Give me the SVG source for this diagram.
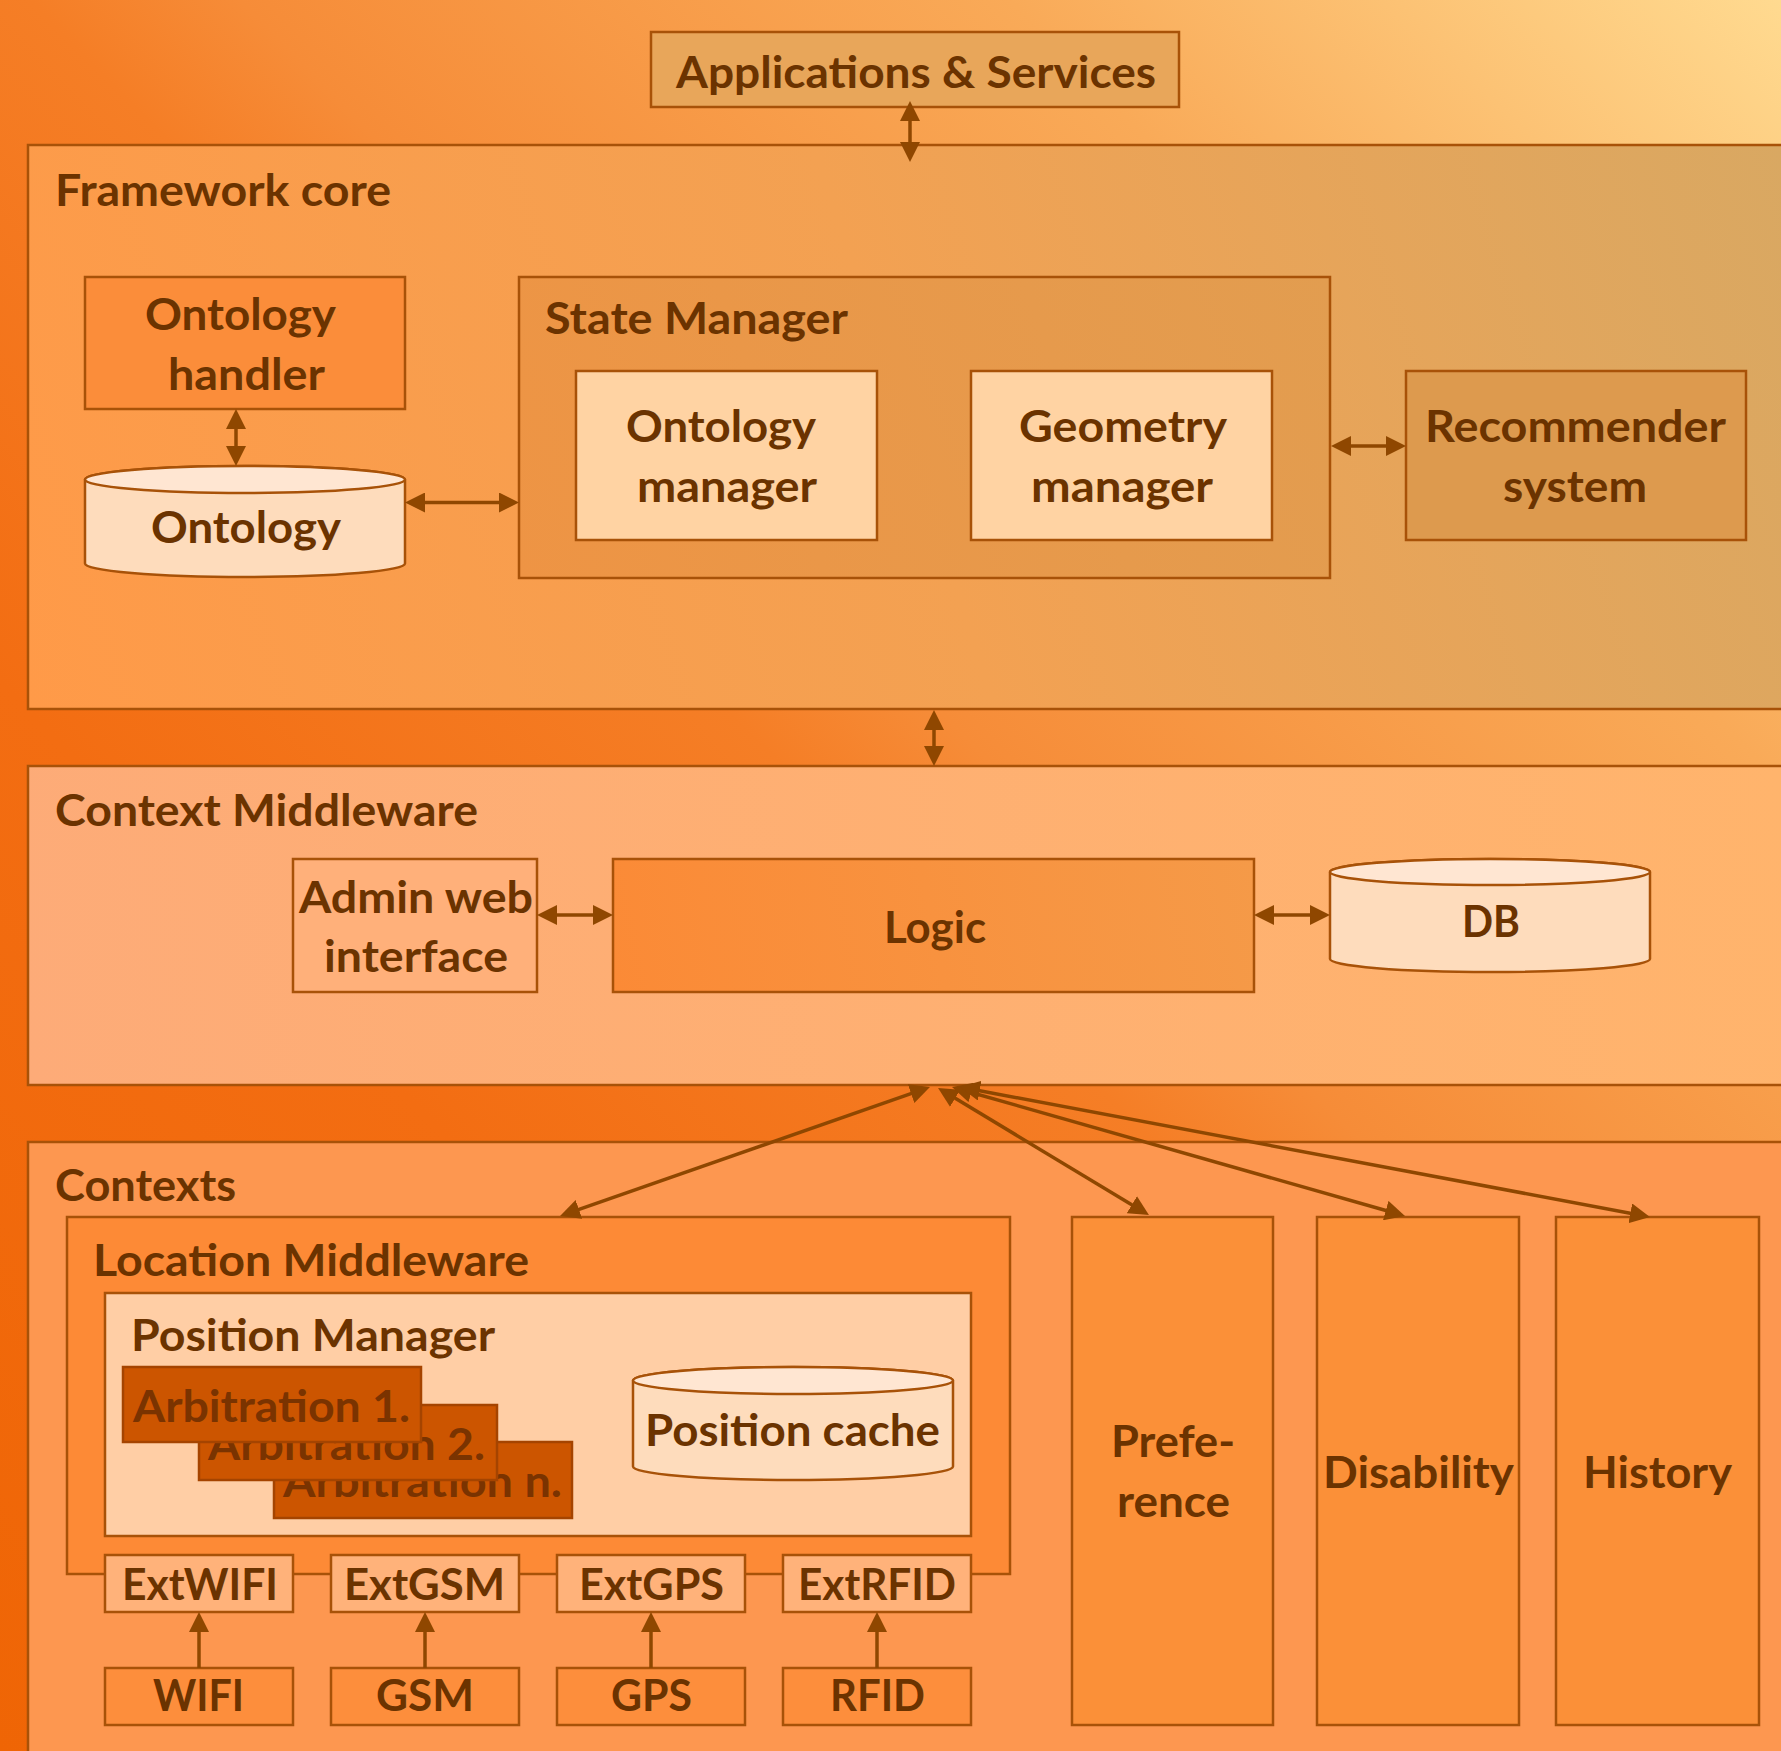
<svg xmlns="http://www.w3.org/2000/svg" width="1781" height="1751" viewBox="0 0 1781 1751">
<defs>
<linearGradient id="bg" gradientUnits="userSpaceOnUse" x1="0" y1="1751" x2="1781" y2="0">
<stop offset="0" stop-color="#ef6505"/>
<stop offset="0.3" stop-color="#f36d12"/>
<stop offset="0.5" stop-color="#f57e26"/>
<stop offset="0.56" stop-color="#f68c38"/>
<stop offset="0.78" stop-color="#f9aa58"/>
<stop offset="1" stop-color="#ffda90"/>
</linearGradient>
<linearGradient id="fw" gradientUnits="userSpaceOnUse" x1="28" y1="709" x2="1781" y2="145">
<stop offset="0" stop-color="#ff9a48"/>
<stop offset="0.5" stop-color="#f3a152"/>
<stop offset="1" stop-color="#d9a862"/>
</linearGradient>
<linearGradient id="sm" gradientUnits="userSpaceOnUse" x1="519" y1="577" x2="1330" y2="277">
<stop offset="0" stop-color="#ee9444"/>
<stop offset="1" stop-color="#e29d50"/>
</linearGradient>
<linearGradient id="cm" gradientUnits="userSpaceOnUse" x1="28" y1="1085" x2="1781" y2="766">
<stop offset="0" stop-color="#fdab78"/>
<stop offset="1" stop-color="#ffb46c"/>
</linearGradient>
<linearGradient id="logic" gradientUnits="userSpaceOnUse" x1="613" y1="992" x2="1254" y2="859">
<stop offset="0" stop-color="#fb8a36"/>
<stop offset="1" stop-color="#f59a48"/>
</linearGradient>
<marker id="ah" viewBox="0 0 20 20" refX="12" refY="10" markerWidth="20" markerHeight="20" markerUnits="userSpaceOnUse" orient="auto-start-reverse">
<path d="M0,0 L20,10 L0,20 z" fill="#8f4700"/>
</marker>
<style>
text{font-family:Lato,"Open Sans","Liberation Sans",sans-serif;font-weight:bold;font-size:43px;fill:#6b3300}
.b{stroke:#a85208;stroke-width:2.5}
.c{fill:none;stroke:#8f4700;stroke-width:3.5}
.both{marker-start:url(#ah);marker-end:url(#ah)}
.end{marker-end:url(#ah)}
.arb{fill:#cc5500;stroke:#a54400;stroke-width:2.5}
.arbt{fill:#7a3300}
.ext{fill:#ffb27a}
.sens{fill:#fd8e3c}
.ctx{fill:#fb9038}
.cylb{fill:#fedcbc}
.cylt{fill:#ffe6d2}
</style>
</defs>
<rect x="0" y="0" width="1781" height="1751" fill="url(#bg)"/>

<g id="applications">
<rect class="b" x="651" y="32" width="528" height="75" fill="#e8a65a"/>
<text x="676" y="88" textLength="480" lengthAdjust="spacingAndGlyphs">Applications &amp; Services</text>
</g>

<g id="framework-core">
<rect class="b" x="28" y="145" width="1800" height="564" fill="url(#fw)"/>
<text x="55" y="206" textLength="336" lengthAdjust="spacingAndGlyphs">Framework core</text>
</g>

<g id="ontology-handler">
<rect class="b" x="85" y="277" width="320" height="132" fill="#fb8d3a"/>
<text x="145" y="330" textLength="191" lengthAdjust="spacingAndGlyphs">Ontology</text>
<text x="168" y="390" textLength="157" lengthAdjust="spacingAndGlyphs">handler</text>
</g>

<g id="ontology">
<path class="b cylb" d="M85,479.5 V563.5 A160,13.5 0 0 0 405,563.5 V479.5 A160,13.5 0 0 0 85,479.5 Z"/>
<ellipse class="b cylt" cx="245" cy="479.5" rx="160" ry="13.5"/>
<text x="151" y="543" textLength="190" lengthAdjust="spacingAndGlyphs">Ontology</text>
</g>

<g id="state-manager">
<rect class="b" x="519" y="277" width="811" height="301" fill="url(#sm)"/>
<text x="545" y="334" textLength="303" lengthAdjust="spacingAndGlyphs">State Manager</text>
</g>

<g id="ontology-manager">
<rect class="b" x="576" y="371" width="301" height="169" fill="#ffd3a3"/>
<text x="626" y="442" textLength="190" lengthAdjust="spacingAndGlyphs">Ontology</text>
<text x="637" y="502" textLength="180" lengthAdjust="spacingAndGlyphs">manager</text>
</g>

<g id="geometry-manager">
<rect class="b" x="971" y="371" width="301" height="169" fill="#ffd3a3"/>
<text x="1019" y="442" textLength="208" lengthAdjust="spacingAndGlyphs">Geometry</text>
<text x="1031" y="502" textLength="182" lengthAdjust="spacingAndGlyphs">manager</text>
</g>

<g id="recommender-system">
<rect class="b" x="1406" y="371" width="340" height="169" fill="#dd9a4e"/>
<text x="1425" y="442" textLength="301" lengthAdjust="spacingAndGlyphs">Recommender</text>
<text x="1503" y="502" textLength="144" lengthAdjust="spacingAndGlyphs">system</text>
</g>

<g id="context-middleware">
<rect class="b" x="28" y="766" width="1800" height="319" fill="url(#cm)"/>
<text x="55" y="826" textLength="423" lengthAdjust="spacingAndGlyphs">Context Middleware</text>
</g>

<g id="admin-web-interface">
<rect class="b" x="293" y="859" width="244" height="133" fill="#ffb07a"/>
<text x="299" y="913" textLength="234" lengthAdjust="spacingAndGlyphs">Admin web</text>
<text x="324" y="972" textLength="184" lengthAdjust="spacingAndGlyphs">interface</text>
</g>

<g id="logic">
<rect class="b" x="613" y="859" width="641" height="133" fill="url(#logic)"/>
<text x="884" y="943" textLength="102" lengthAdjust="spacingAndGlyphs">Logic</text>
</g>

<g id="db">
<path class="b cylb" d="M1330,872 V959 A160,13 0 0 0 1650,959 V872 A160,13 0 0 0 1330,872 Z"/>
<ellipse class="b cylt" cx="1490" cy="872" rx="160" ry="13"/>
<text x="1462" y="937" textLength="58" lengthAdjust="spacingAndGlyphs">DB</text>
</g>

<g id="contexts">
<rect class="b" x="28" y="1142" width="1800" height="700" fill="#fd9750"/>
<text x="55" y="1201" textLength="181" lengthAdjust="spacingAndGlyphs">Contexts</text>
</g>

<g id="location-middleware">
<rect class="b" x="67" y="1217" width="943" height="357" fill="#fd8a36"/>
<text x="93" y="1276" textLength="436" lengthAdjust="spacingAndGlyphs">Location Middleware</text>
</g>

<g id="position-manager">
<rect class="b" x="105" y="1293" width="866" height="243" fill="#ffcea5"/>
<text x="131" y="1351" textLength="364" lengthAdjust="spacingAndGlyphs">Position Manager</text>
</g>

<g id="arbitration-n">
<rect class="arb" x="274" y="1442" width="298" height="76"/>
<text class="arbt" x="283" y="1497" textLength="279" lengthAdjust="spacingAndGlyphs">Arbitration n.</text>
</g>
<g id="arbitration-2">
<rect class="arb" x="199" y="1405" width="298" height="75"/>
<text class="arbt" x="208" y="1460" textLength="277" lengthAdjust="spacingAndGlyphs">Arbitration 2.</text>
</g>
<g id="arbitration-1">
<rect class="arb" x="123" y="1367" width="298" height="75"/>
<text class="arbt" x="133" y="1422" textLength="277" lengthAdjust="spacingAndGlyphs">Arbitration 1.</text>
</g>

<g id="position-cache">
<path class="b cylb" d="M633,1380.5 V1466.5 A160,13.5 0 0 0 953,1466.5 V1380.5 A160,13.5 0 0 0 633,1380.5 Z"/>
<ellipse class="b cylt" cx="793" cy="1380.5" rx="160" ry="13.5"/>
<text x="645" y="1446" textLength="295" lengthAdjust="spacingAndGlyphs">Position cache</text>
</g>

<g id="extwifi">
<rect class="b ext" x="105" y="1555" width="188" height="57"/>
<text x="122" y="1600" textLength="156" lengthAdjust="spacingAndGlyphs">ExtWIFI</text>
</g>
<g id="extgsm">
<rect class="b ext" x="331" y="1555" width="188" height="57"/>
<text x="344" y="1600" textLength="161" lengthAdjust="spacingAndGlyphs">ExtGSM</text>
</g>
<g id="extgps">
<rect class="b ext" x="557" y="1555" width="188" height="57"/>
<text x="579" y="1600" textLength="145" lengthAdjust="spacingAndGlyphs">ExtGPS</text>
</g>
<g id="extrfid">
<rect class="b ext" x="783" y="1555" width="188" height="57"/>
<text x="798" y="1600" textLength="158" lengthAdjust="spacingAndGlyphs">ExtRFID</text>
</g>

<g id="wifi">
<rect class="b sens" x="105" y="1668" width="188" height="57"/>
<text x="153" y="1711" textLength="91" lengthAdjust="spacingAndGlyphs">WIFI</text>
</g>
<g id="gsm">
<rect class="b sens" x="331" y="1668" width="188" height="57"/>
<text x="376" y="1711" textLength="98" lengthAdjust="spacingAndGlyphs">GSM</text>
</g>
<g id="gps">
<rect class="b sens" x="557" y="1668" width="188" height="57"/>
<text x="611" y="1711" textLength="81" lengthAdjust="spacingAndGlyphs">GPS</text>
</g>
<g id="rfid">
<rect class="b sens" x="783" y="1668" width="188" height="57"/>
<text x="830" y="1711" textLength="95" lengthAdjust="spacingAndGlyphs">RFID</text>
</g>

<g id="preference">
<rect class="b ctx" x="1072" y="1217" width="201" height="508"/>
<text x="1111" y="1457" textLength="124" lengthAdjust="spacingAndGlyphs">Prefe-</text>
<text x="1117" y="1517" textLength="113" lengthAdjust="spacingAndGlyphs">rence</text>
</g>
<g id="disability">
<rect class="b ctx" x="1317" y="1217" width="202" height="508"/>
<text x="1323" y="1488" textLength="191" lengthAdjust="spacingAndGlyphs">Disability</text>
</g>
<g id="history">
<rect class="b ctx" x="1556" y="1217" width="203" height="508"/>
<text x="1583" y="1488" textLength="149" lengthAdjust="spacingAndGlyphs">History</text>
</g>

<g id="connectors">
<line class="c both" x1="910" y1="109" x2="910" y2="154"/>
<line class="c both" x1="236" y1="417" x2="236" y2="458"/>
<line class="c both" x1="413" y1="502.5" x2="511" y2="502.5"/>
<line class="c both" x1="1339" y1="446" x2="1398" y2="446"/>
<line class="c both" x1="934" y1="718" x2="934" y2="758"/>
<line class="c both" x1="545" y1="915" x2="605" y2="915"/>
<line class="c both" x1="1262" y1="915" x2="1322" y2="915"/>
<line class="c both" x1="922.4" y1="1089.6" x2="567.6" y2="1213.4"/>
<line class="c both" x1="944.9" y1="1092.1" x2="1142.1" y2="1210.9"/>
<line class="c both" x1="959.7" y1="1089.2" x2="1397.3" y2="1213.8"/>
<line class="c both" x1="967.9" y1="1088.5" x2="1642.1" y2="1215.5"/>
<line class="c end" x1="199" y1="1668" x2="199" y2="1620"/>
<line class="c end" x1="425" y1="1668" x2="425" y2="1620"/>
<line class="c end" x1="651" y1="1668" x2="651" y2="1620"/>
<line class="c end" x1="877" y1="1668" x2="877" y2="1620"/>
</g>
</svg>
